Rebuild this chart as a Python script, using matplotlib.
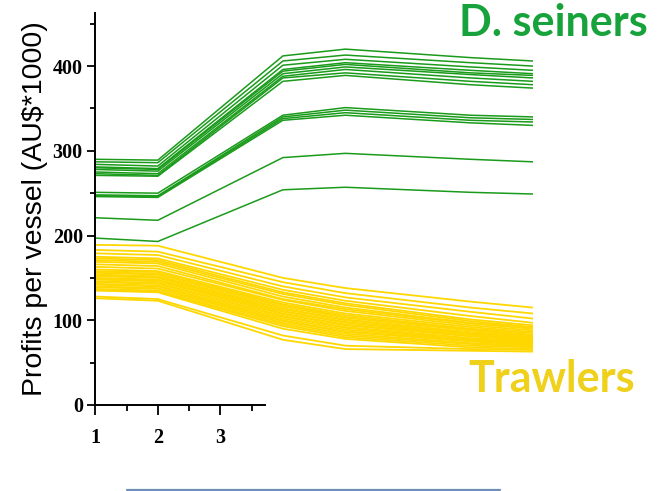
import matplotlib
matplotlib.use('Agg')
import matplotlib.pyplot as plt
from matplotlib.lines import Line2D
from matplotlib.ticker import MultipleLocator

# years at which the profits were evaluated
years = [1, 2, 4, 5, 7, 8]

# Danish seiners, profit per vessel (AU$*1000)
seiners = [
    [290, 289, 412, 420, 410, 406],
    [287, 286, 406, 413, 404, 400],
    [284, 282, 401, 408, 399, 395],
    [281, 279, 396, 404, 395, 391],
    [280, 278, 394, 402, 392, 389],
    [278, 276, 391, 399, 390, 386],
    [275, 273, 388, 396, 386, 382],
    [273, 271, 386, 392, 382, 378],
    [271, 270, 382, 389, 378, 374],
    [251, 250, 342, 351, 342, 340],
    [248, 247, 340, 348, 339, 337],
    [247, 246, 338, 345, 336, 334],
    [246, 245, 336, 342, 333, 330],
    [221, 218, 292, 297, 290, 287],
    [197, 193, 254, 257, 251, 249],
]

# trawlers, profit per vessel (AU$*1000)
trawlers = [
    [189, 188, 150, 138, 122, 115],
    [183, 181, 145, 132, 115, 108],
    [179, 177, 140, 127, 110, 102],
    [175, 173, 136, 123, 105, 97],
    [173, 171, 133, 120, 101, 94],
    [171, 169, 131, 118, 99, 92],
    [169, 167, 128, 115, 97, 91],
    [166, 164, 125, 113, 96, 90],
    [163, 161, 124, 111, 94, 88],
    [160, 158, 121, 108, 92, 86],
    [158, 157, 119, 106, 90, 85],
    [157, 155, 118, 104, 89, 83],
    [156, 154, 116, 103, 88, 82],
    [154, 152, 114, 101, 86, 81],
    [153, 151, 113, 100, 85, 80],
    [152, 150, 111, 98, 84, 79],
    [150, 148, 110, 97, 83, 78],
    [149, 147, 108, 95, 82, 77],
    [148, 146, 107, 94, 81, 76],
    [146, 144, 105, 92, 79, 75],
    [145, 143, 104, 91, 78, 74],
    [143, 141, 102, 89, 77, 73],
    [142, 140, 100, 87, 76, 72],
    [140, 138, 99, 86, 75, 71],
    [139, 137, 97, 84, 73, 70],
    [137, 135, 95, 82, 72, 69],
    [136, 134, 93, 80, 70, 68],
    [135, 133, 90, 78, 68, 66],
    [128, 125, 82, 70, 66, 65],
    [126, 123, 77, 66, 64, 63],
]

W, H = 664, 491
fig = plt.figure(figsize=(W / 100, H / 100), dpi=100)
ax = fig.add_axes([95.3 / W, 86 / H, (533 - 95.3) / W, (405 - 12.7) / H])

for row in trawlers:
    ax.plot(years, row, color='#ffd700', lw=1.3, solid_capstyle='butt')
for row in seiners:
    ax.plot(years, row, color='#1b9b1b', lw=1.1, solid_capstyle='butt')

ax.set_xlim(1, 8)
ax.set_ylim(0, 463)

ax.spines['top'].set_visible(False)
ax.spines['right'].set_visible(False)
ax.spines['left'].set_linewidth(1.4)
ax.spines['bottom'].set_linewidth(1.4)
ax.spines['bottom'].set_bounds(1, 3.72)

ax.set_xticks([1, 2, 3])
ax.set_xticks([1.5, 2.5, 3.5], minor=True)
ax.yaxis.set_major_locator(MultipleLocator(100))
ax.set_yticks([50, 150, 250, 350, 450], minor=True)

ax.tick_params(axis='x', which='major', length=7.5, width=1.3, pad=9)
ax.tick_params(axis='x', which='minor', length=4.5, width=1.3)
ax.tick_params(axis='y', which='major', length=5.5, width=1.3, pad=3.5)
ax.tick_params(axis='y', which='minor', length=3.5, width=1.3)
for lab in ax.get_xticklabels() + ax.get_yticklabels():
    lab.set_fontfamily('Liberation Serif')
    lab.set_fontweight('bold')
    lab.set_fontsize(14.5)

ax.set_ylabel('Profits per vessel (AU$*1000)', family='Liberation Sans',
              fontsize=20.5, va='center')
ax.yaxis.set_label_coords((35 - 95.3) / (533 - 95.3), 0.5)

fig.text(459 / W, 1 - 36 / H, 'D. seiners', color='#17a23b', family='Lato',
         weight='bold', fontsize=31, ha='left', va='baseline')
fig.text(468 / W, 1 - 392 / H, 'Trawlers', color='#efd01b', family='Lato',
         weight='bold', fontsize=31, ha='left', va='baseline')

# edge of the box below the chart
fig.add_artist(Line2D([127 / W, 500 / W], [1 - 490 / H, 1 - 490 / H],
                      transform=fig.transFigure, color='#6f8fb8', lw=1.6,
                      solid_capstyle='round'))

fig.savefig('out.png', dpi=100)
